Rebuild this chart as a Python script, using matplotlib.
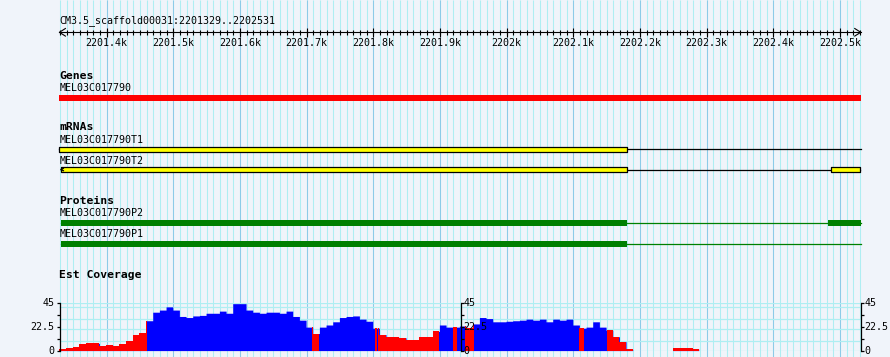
import numpy as np
import matplotlib
matplotlib.use("Agg")
import matplotlib.pyplot as plt

# region shown
seq_start = 2201329
seq_end = 2202531
ruler_title = "CM3.5_scaffold00031:2201329..2202531"

gene_name = "MEL03C017790"
gene_span = (2201329, 2202531)

mrna_names = ["MEL03C017790T1", "MEL03C017790T2"]
mrna_exons = [[(2201329, 2202181)], [(2201332, 2202181), (2202486, 2202530)]]
mrna_ends = [2202532, 2202530]

protein_names = ["MEL03C017790P2", "MEL03C017790P1"]
protein_exons = [[(2201332, 2202181), (2202482, 2202531)], [(2201332, 2202181)]]
protein_ends = [2202531, 2202532]

# est coverage, 10 bp bins from seq_start
cov_bin = 10
cov_values = [1.5, 2.2, 3.4, 5.9, 7.4, 6.8, 4.7, 5.3, 4.7, 6.5,
              9, 14.6, 16.5, 28, 36, 38, 41, 38, 32, 31,
              32.5, 33, 35, 35, 37, 35, 44, 44, 38, 36,
              35, 36, 36, 35, 37, 32, 28.5, 22, 16, 22,
              24, 27, 31, 32, 32.5, 29.5, 27.5, 21, 15, 13,
              12.4, 12, 10, 10, 13, 13, 18, 24, 22, 22,
              23, 21, 25, 31, 30, 27, 27, 27.5, 28, 28.5,
              29.5, 28.5, 29.5, 27, 29.5, 28.5, 29.5, 24, 21, 22,
              27, 22, 19, 13, 8.4, 1.2, 0, 0, 0, 0,
              0, 0, 2, 2, 2, 1.5]
# offsets (bp from seq_start) drawn in red
red_ranges = [(0, 131), (379, 389), (473, 476), (478, 570), (591, 596),
              (608, 622), (779, 787), (821, 1210)]
cov_max = 45
cov_ticks = [0, 22.5, 45]
cov_grid = [0, 9.2, 20, 29.3, 40.5, 45]

BG = "#f0f4fa"
MINOR = "#aeeef2"
MAJOR = "#8ccbe8"
W, H = 890, 357
mono = "DejaVu Sans Mono"

fig = plt.figure(figsize=(W / 100, H / 100), dpi=100)
fig.patch.set_facecolor(BG)

# x: 1.5 bp per pixel, seq_start at pixel 59.4
bp_px = 1.5
x_left = seq_start - 59.4 * bp_px
x_right = x_left + W * bp_px

ax = fig.add_axes([0, 0, 1, 1])
ax.set_xlim(x_left, x_right)
ax.set_ylim(H, 0)
ax.axis("off")
ax.set_facecolor(BG)

# grid lines
minor_pos = np.arange(2201330, seq_end, 10)
ax.vlines(minor_pos, 0, H, color=MINOR, lw=0.75, zorder=1)
major_pos = np.arange(2201400, seq_end, 100)
ax.vlines(major_pos, 0, H, color=MAJOR, lw=0.75, zorder=1)

# ruler
ax.text(seq_start, 21, ruler_title, family=mono, fontsize=7.2, va="center", ha="left", zorder=5)
ax.plot([seq_start, seq_end], [32.3, 32.3], color="black", lw=0.8, zorder=5)
ax.vlines(minor_pos, 29.5, 35, color="black", lw=0.8, zorder=5)
ax.vlines(major_pos, 27.5, 37.3, color="black", lw=0.8, zorder=5)
ah = 6 * bp_px
ax.plot([seq_start + ah, seq_start, seq_start + ah], [28.5, 32.3, 36.1], color="black", lw=0.8, zorder=5)
ax.plot([seq_end - ah, seq_end, seq_end - ah], [28.5, 32.3, 36.1], color="black", lw=0.8, zorder=5)
for p in major_pos:
    lab = "%gk" % (p / 1000.0)
    ax.text(p, 42.5, lab, family=mono, fontsize=7.2, va="center", ha="center", zorder=5)

def label(y, s, bold=False):
    ax.text(seq_start, y, s, family=mono, fontsize=8.2 if bold else 7.2,
            fontweight="bold" if bold else "normal", va="center", ha="left", zorder=5)

# genes
label(76, "Genes", True)
label(88, gene_name)
ax.fill_between(gene_span, 95, 101, color="#ff0000", lw=0, zorder=4)

# mRNAs
label(127.5, "mRNAs", True)
mrna_rows = [(140, 149.3), (160.5, 169.5)]
for name, exons, end, (ly, by) in zip(mrna_names, mrna_exons, mrna_ends, mrna_rows):
    label(ly, name)
    ax.plot([exons[0][0], end], [by, by], color="black", lw=0.9, zorder=3)
    for s, e in exons:
        ax.fill_between([s, e], by - 2.2, by + 2.2, facecolor="#ffff00",
                        edgecolor="black", lw=0.9, zorder=4)
# small arrowhead on T2
ax.plot([2201332 + 3, 2201332 - 1, 2201332 + 3], [168.3, 169.5, 170.7], color="black", lw=0.9, zorder=4)

# proteins
label(201, "Proteins", True)
prot_rows = [(213, 222.8), (234, 244)]
for name, exons, end, (ly, by) in zip(protein_names, protein_exons, protein_ends, prot_rows):
    label(ly, name)
    ax.plot([exons[0][0], end], [by, by], color="#008000", lw=0.9, zorder=3)
    for s, e in exons:
        ax.fill_between([s, e], by - 3, by + 3, color="#008000", lw=0, zorder=4)

# est coverage
label(275, "Est Coverage", True)
y0_px, y1_px = 350.6, 302.6
cax = fig.add_axes([0, (H - y0_px) / H, 1, (y0_px - y1_px) / H])
cax.set_xlim(x_left, x_right)
cax.set_ylim(0, cov_max)
cax.axis("off")
cax.patch.set_alpha(0)

cax.hlines(cov_grid, seq_start, seq_end, color=MINOR, lw=0.9, zorder=1)

vals = np.repeat(np.array(cov_values, dtype=float), cov_bin)
xs = seq_start + np.arange(len(vals))
cax.fill_between(xs, 0, vals, step="post", color="#0000ff", lw=0, zorder=2)
for a, b in red_ranges:
    m = (xs >= seq_start + a) & (xs < seq_start + b)
    if m.any():
        xx = np.append(xs[m], xs[m][-1] + 1)
        vv = np.append(vals[m], vals[m][-1])
        cax.fill_between(xx, 0, vv, step="post", color="#ff0000", lw=0, zorder=3)

tl = 3 * bp_px
tick_vals = [0, 11.25, 22.5, 33.75, 45]
for xa, side, gap in [(seq_start + 0.5, -1, 5), (2201931, 1, 3), (seq_end, 1, 4)]:
    cax.plot([xa, xa], [0, cov_max], color="black", lw=0.9, zorder=5, clip_on=False)
    cax.hlines(tick_vals, xa, xa + side * tl, color="black", lw=0.9, zorder=5, clip_on=False)
    for t in cov_ticks:
        cax.text(xa + side * gap * bp_px, t, "%g" % t, family=mono, fontsize=7.2,
                 ha="right" if side < 0 else "left", va="center", zorder=6, clip_on=False)

fig.savefig("out.png", dpi=100, facecolor=BG)
